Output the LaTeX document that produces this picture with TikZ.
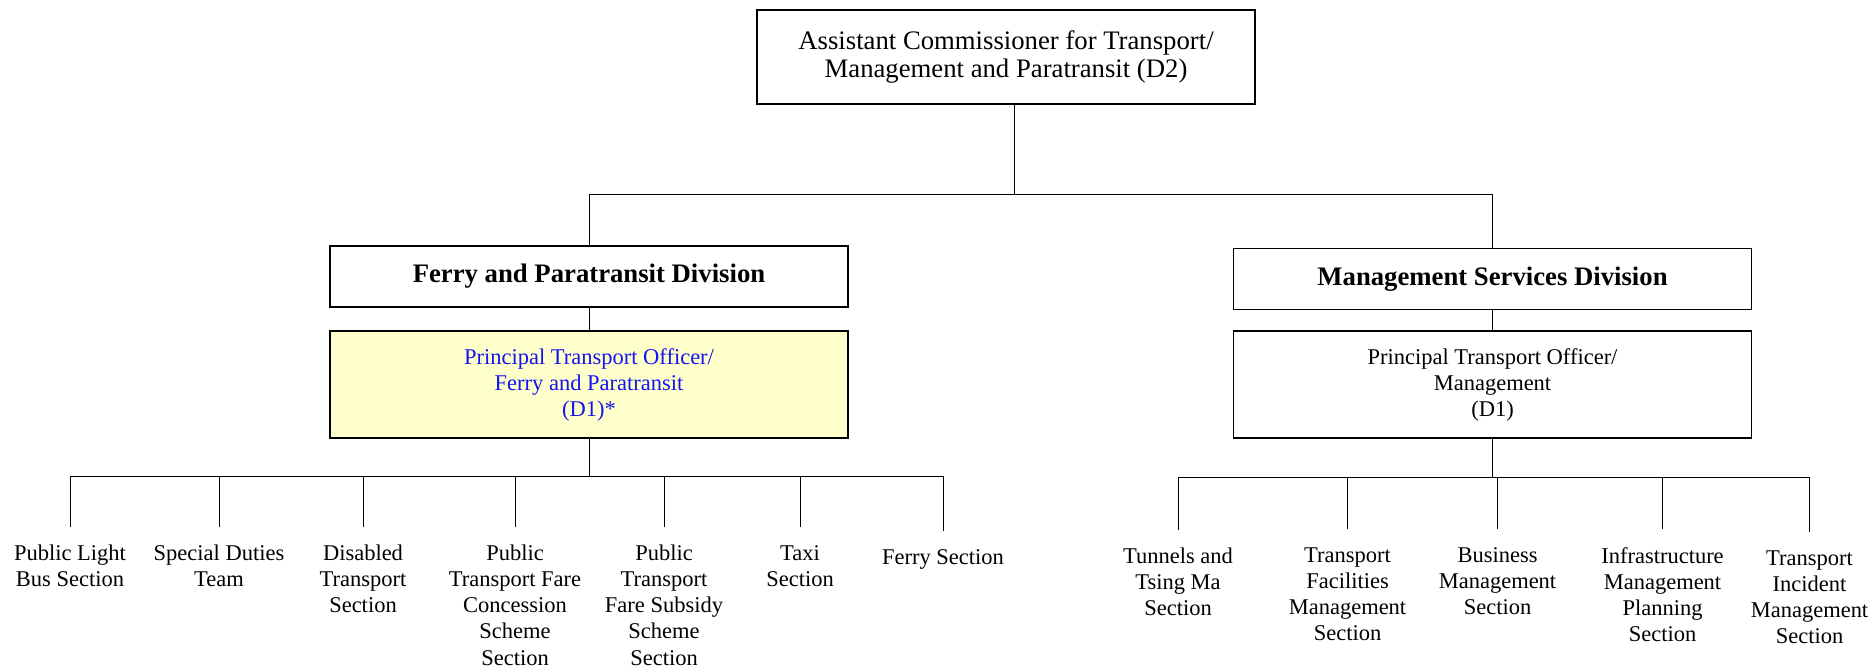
\documentclass[tikz,border=0pt]{standalone}
\usepackage{fontspec}
\setmainfont{Liberation Serif}
\usetikzlibrary{positioning}
\definecolor{clrPTO} {RGB}{255,255,204}
\definecolor{clrBlue}{RGB}{ 20, 20,240}
\tikzset{
  headbox/.style={rectangle, draw=black, line width=0.9pt, fill=white,
    minimum width=9.96cm, minimum height=1.88cm, align=center,
    font=\fontsize{15.2}{16.2}\selectfont},
  divbox/.style={rectangle, draw=black, line width=0.9pt, fill=white,
    minimum width=10.36cm, minimum height=1.22cm, align=center,
    font=\fontsize{15.2}{16.2}\selectfont\bfseries},
  ptobox/.style={rectangle, draw=black, line width=0.9pt, fill=white,
    minimum width=10.36cm, minimum height=2.14cm, align=center,
    font=\fontsize{12.8}{14.8}\selectfont},
  secnode/.style={anchor=north, inner sep=0pt, align=center,
    font=\fontsize{12.8}{14.8}\selectfont},
  link/.style={line width=0.5pt, color=black},
}
\begin{document}
\begin{tikzpicture}[x=1cm, y=1cm]
\useasboundingbox (0,0) rectangle (37.44,-13.36);
\def\xF{11.78}\def\xM{29.85}\def\yP{-7.69}\def\yS{-10.9}
% head and divisions
\node[headbox] (acm) at (20.12, -1.14) {Assistant Commissioner for Transport/\\Management and Paratransit (D2)};
\node[divbox] (divF) at (\xF, -5.53) {Ferry and Paratransit Division};
\node[divbox] (divM) at (\xM, -5.58) {Management Services Division};
\node[ptobox, fill=clrPTO, text=clrBlue] (ptoF) at (\xF, \yP) {Principal Transport Officer/\\Ferry and Paratransit\\(D1)*};
\node[ptobox] (ptoM) at (\xM, \yP) {Principal Transport Officer/\\Management\\(D1)};
% sections under ferry and paratransit
\node[secnode] (plb)   at (1.40, \yS) {Public Light\\Bus Section};
\node[secnode] (sdt)   at (4.38, \yS) {Special Duties\\Team};
\node[secnode] (dts)   at (7.26, \yS) {Disabled\\Transport\\Section};
\node[secnode] (ptfc)  at (10.30, \yS) {Public\\Transport Fare\\Concession\\Scheme\\Section};
\node[secnode] (ptfs)  at (13.28, \yS) {Public\\Transport\\Fare Subsidy\\Scheme\\Section};
\node[secnode] (taxi)  at (16.00, \yS) {Taxi\\Section};
\node[secnode] (ferry) at (18.86, \yS-0.08) {Ferry Section};
% sections under management services
\node[secnode] (tsm)   at (23.56, \yS-0.06) {Tunnels and\\Tsing Ma\\Section};
\node[secnode] (tfm)   at (26.95, \yS-0.04) {Transport\\Facilities\\Management\\Section};
\node[secnode] (bms)   at (29.95, \yS-0.04) {Business\\Management\\Section};
\node[secnode] (imp)   at (33.25, \yS-0.04) {Infrastructure\\Management\\Planning\\Section};
\node[secnode] (tim)   at (36.19, \yS-0.1) {Transport\\Incident\\Management\\Section};
% connectors
\draw[link] ([xshift=0.16cm]acm.south) -- ++(0,-1.80) -| (divF.north);
\draw[link] ([xshift=0.16cm]acm.south) -- ++(0,-1.80) -| (divM.north);
\draw[link] (divF) -- (ptoF);
\draw[link] (divM) -- (ptoM);
\coordinate (fbus) at (0,-9.52);
\coordinate (mbus) at (0,-9.54);
\draw[link] (ptoF.south) -- (ptoF.south |- fbus);
\draw[link] (plb.north |- fbus) -- (ferry.north |- fbus);
\foreach \n in {plb, sdt, dts, ptfc, ptfs, taxi, ferry}
  \draw[link] (\n.north |- fbus) -- ([yshift=0.36cm]\n.north);
\draw[link] (ptoM.south) -- (ptoM.south |- mbus);
\draw[link] (tsm.north |- mbus) -- (tim.north |- mbus);
\foreach \n in {tsm, tfm, bms, imp, tim}
  \draw[link] (\n.north |- mbus) -- ([yshift=0.36cm]\n.north);
\end{tikzpicture}
\end{document}
